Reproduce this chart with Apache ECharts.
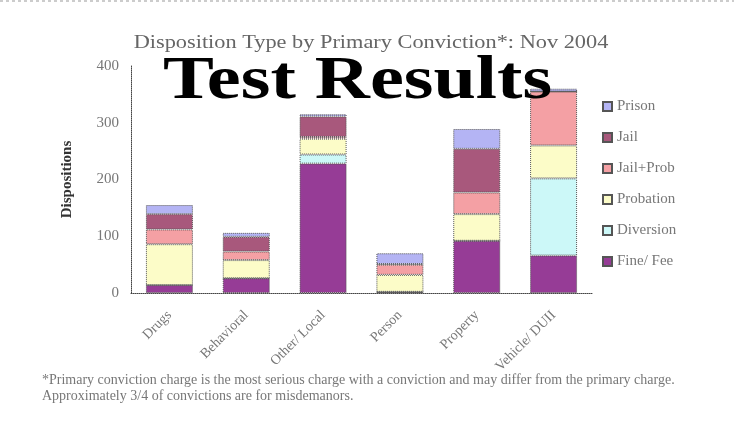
<!DOCTYPE html>
<html>
<head>
<meta charset="utf-8">
<script src="https://cdn.jsdelivr.net/npm/echarts@6/dist/echarts.min.js"></script>
<style>
  html, body { margin: 0; padding: 0; background: #fff; }
  #chart { width: 734px; height: 424px; }
</style>
</head>
<body>
<div id="chart"></div>
<script>
// categories + stacked series
var categories = ['Drugs', 'Behavioral', 'Other/ Local', 'Person', 'Property', 'Vehicle/ DUII'];
var fineFee   = [14, 26, 228, 2, 92, 66];
var diversion = [0, 0, 16, 0, 0, 136];
var probation = [72, 32, 28, 30, 47, 58];
var jailProb  = [26, 15, 3, 18, 38, 95];
var jail      = [27, 26, 36, 1, 77, 0];
var prison    = [16, 7, 4, 19, 35, 5];
var yTicks    = [0, 100, 200, 300, 400];

var serif = '"Liberation Serif", "DejaVu Serif", serif';

function seg(name, data, color) {
    return {
        name: name,
        type: 'bar',
        stack: 'total',
        barWidth: 47,
        data: data,
        itemStyle: {
            color: color,
            borderColor: '#555',
            borderWidth: 1,
            borderType: 'dotted'
        }
    };
}

var chart = echarts.init(document.getElementById('chart'));
chart.setOption({
    animation: false,
    legend: {
        orient: 'vertical',
        left: 597,
        top: 94,
        itemWidth: 9,
        itemHeight: 9,
        itemGap: 16,
        icon: 'rect',
        data: ['Prison', 'Jail', 'Jail+Prob', 'Probation', 'Diversion', 'Fine/ Fee'],
        textStyle: { fontFamily: serif, fontSize: 15, color: '#777' }
    },
    grid: { left: 131, right: 142, top: 66, bottom: 131 },
    xAxis: {
        type: 'category',
        data: categories,
        axisLine: { lineStyle: { color: '#444', type: 'dotted' } },
        axisTick: { show: false },
        axisLabel: {
            rotate: 45,
            fontFamily: serif,
            fontSize: 14,
            color: '#777',
            margin: 20
        }
    },
    yAxis: {
        type: 'value',
        min: yTicks[0],
        max: yTicks[yTicks.length - 1],
        interval: 100,
        name: 'Dispositions',
        nameLocation: 'middle',
        nameRotate: 90,
        nameGap: 56,
        nameTextStyle: { fontFamily: serif, fontSize: 15, fontWeight: 'bold', color: '#333' },
        axisLine: { show: true, lineStyle: { color: '#444', type: 'dotted' } },
        axisTick: { show: false },
        splitLine: { show: false },
        axisLabel: { fontFamily: serif, fontSize: 15, color: '#777', margin: 12 }
    },
    series: [
        seg('Fine/ Fee', fineFee, '#963c96'),
        seg('Diversion', diversion, '#ccf8f8'),
        seg('Probation', probation, '#fcfcc8'),
        seg('Jail+Prob', jailProb, '#f4a0a4'),
        seg('Jail', jail, '#a8587c'),
        seg('Prison', prison, '#b4b4f4')
    ],
    graphic: [
        {
            type: 'line',
            shape: { x1: 0, y1: 1, x2: 734, y2: 1 },
            style: { stroke: '#999', lineWidth: 1, lineDash: [3, 3] }
        },
        {
            // chart title, drawn wide like the original
            type: 'text',
            x: 371,
            y: 43,
            scaleX: 1.24,
            style: {
                text: 'Disposition Type by Primary Conviction*: Nov 2004',
                font: '18px ' + serif,
                fill: '#666',
                align: 'center',
                verticalAlign: 'middle'
            }
        },
        {
            type: 'text',
            left: 42,
            top: 372,
            style: {
                text: '*Primary conviction charge is the most serious charge with a conviction and may differ from the primary charge.\nApproximately 3/4 of convictions are for misdemanors.',
                font: '14px ' + serif,
                fill: '#777',
                lineHeight: 16
            }
        },
        {
            type: 'text',
            x: 163,
            y: 51,
            scaleX: 1.23,
            z: 100,
            style: {
                text: 'Test Results',
                font: 'bold 62px ' + serif,
                fill: '#000'
            }
        }
    ]
});
</script>
</body>
</html>
